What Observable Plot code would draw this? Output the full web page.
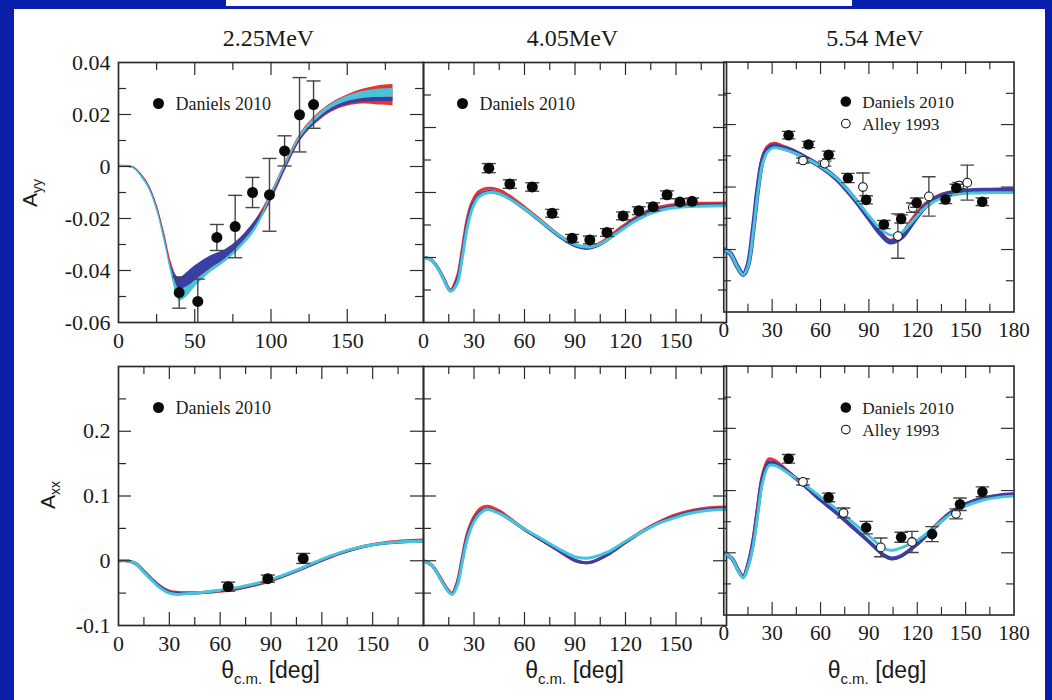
<!DOCTYPE html>
<html><head><meta charset="utf-8">
<script src="https://cdn.jsdelivr.net/npm/d3@7"></script>
<script src="https://cdn.jsdelivr.net/npm/@observablehq/plot@0.6"></script>
<style>
html,body{margin:0;padding:0;}
body{width:1052px;height:700px;background:#0b20aa;position:relative;overflow:hidden;}
#paper{position:absolute;left:14px;top:9px;width:1031px;height:691px;background:#fff;}
#topbox{position:absolute;left:226px;top:0;width:626px;height:6px;background:#fff;}
.panel{position:absolute;}
.panel svg{overflow:visible;display:block;}
#overlay{position:absolute;left:0;top:0;overflow:visible;}
</style></head><body>
<div id="paper"></div><div id="topbox"></div>
<div id="chart"></div>
<script>
// ---------- titles / labels ----------
const energies = ["2.25MeV", "4.05MeV", "5.54 MeV"];
const rowLabels = [["A", "yy"], ["A", "xx"]];
const legendDaniels = "Daniels 2010";
const legendAlley = "Alley 1993";

// ---------- tick values ----------
const xMinor225 = [25, 75, 125, 175];
const xMajor225 = [50, 100, 150];
const xLabels225 = [0, 50, 100, 150];
const xMinorDeg = [15, 45, 75, 105, 135, 165];
const xMajorDeg = [30, 60, 90, 120, 150];
const xLabelsDeg = [0, 30, 60, 90, 120, 150];
const xLabelsDegLast = [0, 30, 60, 90, 120, 150, 180];
const yMinorAyy225 = [-0.05, -0.03, -0.01, 0.01, 0.03];
const yMajorAyy225 = [-0.04, -0.02, 0, 0.02];
const yLabelsAyy = [-0.06, -0.04, -0.02, 0, 0.02, 0.04];
const yMinorAyy = [-0.01, 0.01, 0.03, 0.05];
const yMajorAyy = [0, 0.02, 0.04];
const yMinorAxx = [-0.05, 0.05, 0.15, 0.25];
const yMajorAxx = [0, 0.1, 0.2];
const yLabelsAxx = [-0.1, 0, 0.1, 0.2];

// ---------- A_yy 2.25 MeV (bands) ----------
const ayy225_x = [0, 5, 10, 15, 20, 25, 30, 35, 40, 45, 50, 60, 70, 80, 90, 100, 110, 120, 130, 140, 150, 160, 170, 180];
const ayy225_redHi = [0.0004, 0.0004, -0.0001, -0.0028, -0.0070, -0.0142, -0.0250, -0.0375, -0.0440, -0.0425, -0.0395, -0.0350, -0.0322, -0.0275, -0.0205, -0.0101, 0.0024, 0.0134, 0.0200, 0.0245, 0.0275, 0.0297, 0.0310, 0.0315];
const ayy225_redLo = [-0.0004, -0.0004, -0.0009, -0.0040, -0.0086, -0.0165, -0.0282, -0.0410, -0.0482, -0.0472, -0.0445, -0.0397, -0.0358, -0.0307, -0.0237, -0.0136, -0.0009, 0.0104, 0.0167, 0.0210, 0.0232, 0.0240, 0.0237, 0.0234];
const ayy225_blueHi = [0.0003, 0.0003, -0.0003, -0.0031, -0.0074, -0.0148, -0.0260, -0.0388, -0.0428, -0.0408, -0.0383, -0.0345, -0.0320, -0.0275, -0.0207, -0.0120, 0.0005, 0.0115, 0.0180, 0.0225, 0.0250, 0.0262, 0.0265, 0.0266];
const ayy225_blueLo = [-0.0003, -0.0003, -0.0008, -0.0038, -0.0083, -0.0160, -0.0276, -0.0405, -0.0472, -0.0462, -0.0440, -0.0395, -0.0356, -0.0300, -0.0230, -0.0132, -0.0005, 0.0107, 0.0170, 0.0213, 0.0237, 0.0247, 0.0250, 0.0250];
const ayy225_cyanHi = [0.0003, 0.0003, -0.0004, -0.0033, -0.0077, -0.0153, -0.0266, -0.0398, -0.0472, -0.0462, -0.0440, -0.0395, -0.0356, -0.0300, -0.0228, -0.0105, 0.0020, 0.0130, 0.0196, 0.0241, 0.0270, 0.0288, 0.0297, 0.0300];
const ayy225_cyanLo = [-0.0003, -0.0003, -0.0010, -0.0042, -0.0089, -0.0170, -0.0290, -0.0425, -0.0517, -0.0500, -0.0465, -0.0410, -0.0368, -0.0315, -0.0245, -0.0120, 0.0005, 0.0115, 0.0180, 0.0225, 0.0250, 0.0262, 0.0265, 0.0266];
// Daniels 2010: angle, value, error
const ayy225_danX = [39.8, 52, 64.5, 76.5, 87.9, 99, 108.9, 118.7, 127.9];
const ayy225_danY = [-0.0485, -0.0519, -0.0273, -0.0231, -0.0100, -0.0109, 0.0060, 0.0199, 0.0238];
const ayy225_danE = [0.0060, 0.0086, 0.0050, 0.0120, 0.0058, 0.0140, 0.0058, 0.0143, 0.0091];

// ---------- A_yy 4.05 MeV ----------
const ayy405_x = [0, 4, 8, 12, 16, 20, 23, 26, 29, 33, 39, 45, 50, 60, 70, 80, 90, 97, 105, 115, 125, 135, 145, 155, 165, 180];
const ayy405_red = [0, -0.0005, -0.0027, -0.0064, -0.0100, -0.0060, 0.0025, 0.0120, 0.0172, 0.0203, 0.0213, 0.0207, 0.0193, 0.0155, 0.0113, 0.0071, 0.0040, 0.0032, 0.0045, 0.0083, 0.0120, 0.0147, 0.0160, 0.0165, 0.0167, 0.0168];
const ayy405_blue = [0, -0.0005, -0.0028, -0.0066, -0.0102, -0.0070, 0.0010, 0.0105, 0.0160, 0.0192, 0.0203, 0.0197, 0.0185, 0.0149, 0.0108, 0.0067, 0.0036, 0.0028, 0.0040, 0.0077, 0.0115, 0.0142, 0.0155, 0.0160, 0.0162, 0.0163];
const ayy405_cyan = [0, -0.0005, -0.0029, -0.0068, -0.0104, -0.0080, -0.0002, 0.0092, 0.0150, 0.0187, 0.0200, 0.0196, 0.0184, 0.0150, 0.0110, 0.0070, 0.0040, 0.0032, 0.0042, 0.0075, 0.0110, 0.0136, 0.0150, 0.0156, 0.0158, 0.0159];
const ayy405_danX = [38.8, 51.3, 64.6, 76.4, 88.3, 98.8, 109, 118.6, 127.9, 136.4, 144.7, 152.3, 159.6];
const ayy405_danY = [0.0275, 0.0226, 0.0217, 0.0136, 0.0059, 0.0054, 0.0077, 0.0128, 0.0144, 0.0156, 0.0193, 0.0171, 0.0173];
const ayy405_danE = [0.0014, 0.0013, 0.0013, 0.0012, 0.0012, 0.0012, 0.0012, 0.0012, 0.0012, 0.0012, 0.0012, 0.0010, 0.0010];

// ---------- A_yy 5.54 MeV ----------
const ayy554_x = [0, 4, 8, 12, 15, 18, 21, 24, 27, 31, 36, 42, 50, 60, 70, 80, 90, 96, 103, 110, 117, 125, 135, 145, 155, 165, 180];
const ayy554_red = [0, -0.0012, -0.0049, -0.0079, -0.0046, 0.0065, 0.0203, 0.0297, 0.0330, 0.0340, 0.0333, 0.0321, 0.0299, 0.0268, 0.0228, 0.0171, 0.0104, 0.0063, 0.0030, 0.0050, 0.0100, 0.0148, 0.0177, 0.0187, 0.0189, 0.0189, 0.0189];
const ayy554_blue = [0, -0.0012, -0.0050, -0.0080, -0.0050, 0.0055, 0.0190, 0.0285, 0.0320, 0.0332, 0.0326, 0.0316, 0.0296, 0.0266, 0.0226, 0.0168, 0.0100, 0.0058, 0.0024, 0.0038, 0.0085, 0.0138, 0.0172, 0.0185, 0.0189, 0.0190, 0.0191];
const ayy554_cyan = [0, -0.0012, -0.0051, -0.0081, -0.0054, 0.0045, 0.0178, 0.0274, 0.0312, 0.0326, 0.0322, 0.0313, 0.0295, 0.0266, 0.0228, 0.0172, 0.0108, 0.0072, 0.0047, 0.0054, 0.0090, 0.0135, 0.0165, 0.0177, 0.0181, 0.0182, 0.0182];
const ayy554_danX = [40.2, 52.5, 65, 77, 88.3, 99.3, 110, 119.6, 137.5, 144.2, 160.3];
const ayy554_danY = [0.0366, 0.0336, 0.0303, 0.0229, 0.0159, 0.0080, 0.0098, 0.0150, 0.0160, 0.0197, 0.0153];
const ayy554_danE = [0.0012, 0.0010, 0.0012, 0.0015, 0.0013, 0.0013, 0.0013, 0.0015, 0.0013, 0.0012, 0.0012];
const ayy554_allX = [49.1, 62.6, 86.3, 108, 117.2, 127.2, 146, 151];
const ayy554_allY = [0.0285, 0.0275, 0.0200, 0.0043, 0.0134, 0.0170, 0.0205, 0.0214];
const ayy554_allE = [0.0008, 0.0008, 0.0045, 0.0071, 0.0015, 0.0063, 0.0010, 0.0056];

// ---------- A_xx 2.25 MeV ----------
const axx225_x = [0, 5, 10, 15, 20, 25, 30, 35, 40, 50, 60, 70, 80, 90, 100, 110, 120, 130, 140, 150, 160, 170, 180];
const axx225_red = [0, 0, -0.004, -0.016, -0.029, -0.040, -0.047, -0.049, -0.0495, -0.049, -0.047, -0.0435, -0.038, -0.031, -0.021, -0.0105, 0.0005, 0.0108, 0.019, 0.025, 0.029, 0.031, 0.032];
const axx225_blue = [0, 0, -0.004, -0.017, -0.030, -0.041, -0.048, -0.050, -0.050, -0.049, -0.046, -0.0425, -0.037, -0.030, -0.0205, -0.010, 0.001, 0.011, 0.019, 0.0245, 0.0278, 0.0295, 0.030];
const axx225_cyan = [0, 0, -0.004, -0.018, -0.031, -0.043, -0.050, -0.052, -0.051, -0.0485, -0.0455, -0.0415, -0.036, -0.0288, -0.0195, -0.009, 0.002, 0.0118, 0.0195, 0.0248, 0.028, 0.0297, 0.0302];
const axx225_danX = [64.7, 88.1, 109];
const axx225_danY = [-0.040, -0.0277, 0.0036];
const axx225_danE = [0.007, 0.0056, 0.0077];

// ---------- A_xx 4.05 MeV ----------
const axx405_x = [0, 5, 10, 14, 17, 20, 23, 26, 30, 34, 38, 45, 50, 60, 70, 80, 90, 96, 100, 110, 120, 130, 140, 150, 160, 170, 180];
const axx405_red = [0, -0.007, -0.026, -0.043, -0.050, -0.033, 0.005, 0.042, 0.068, 0.081, 0.084, 0.077, 0.068, 0.049, 0.032, 0.016, 0.000, -0.003, -0.002, 0.011, 0.029, 0.046, 0.060, 0.071, 0.078, 0.082, 0.083];
const axx405_blue = [0, -0.007, -0.027, -0.044, -0.051, -0.036, 0.001, 0.037, 0.063, 0.076, 0.080, 0.074, 0.066, 0.048, 0.032, 0.0164, 0.001, -0.003, -0.002, 0.010, 0.028, 0.045, 0.059, 0.069, 0.076, 0.080, 0.081];
const axx405_cyan = [0, -0.007, -0.028, -0.045, -0.052, -0.039, -0.003, 0.033, 0.060, 0.074, 0.079, 0.073, 0.066, 0.049, 0.034, 0.019, 0.006, 0.004, 0.005, 0.014, 0.030, 0.045, 0.058, 0.067, 0.074, 0.078, 0.079];

// ---------- A_xx 5.54 MeV ----------
const axx554_x = [0, 5, 9, 12, 15, 18, 21, 24, 28, 32, 40, 50, 60, 70, 80, 90, 100, 104, 110, 120, 130, 140, 150, 160, 170, 180];
const axx554_red = [0, -0.009, -0.027, -0.038, -0.017, 0.020, 0.076, 0.126, 0.151, 0.148, 0.131, 0.109, 0.086, 0.064, 0.041, 0.018, -0.006, -0.010, -0.005, 0.016, 0.041, 0.064, 0.079, 0.088, 0.092, 0.094];
const axx554_blue = [0, -0.009, -0.028, -0.039, -0.020, 0.014, 0.068, 0.119, 0.145, 0.143, 0.129, 0.108, 0.085, 0.064, 0.041, 0.018, -0.005, -0.009, -0.005, 0.014, 0.039, 0.063, 0.078, 0.087, 0.092, 0.094];
const axx554_cyan = [0, -0.009, -0.029, -0.040, -0.023, 0.008, 0.060, 0.112, 0.140, 0.140, 0.128, 0.110, 0.090, 0.070, 0.049, 0.027, 0.006, 0.004, 0.008, 0.020, 0.040, 0.061, 0.075, 0.084, 0.089, 0.091];
const axx554_danX = [40.2, 65, 88.3, 110, 129.2, 146.5, 160.4];
const axx554_danY = [0.151, 0.089, 0.0405, 0.025, 0.030, 0.078, 0.098];
const axx554_danE = [0.007, 0.007, 0.010, 0.008, 0.012, 0.010, 0.008];
const axx554_allX = [49.1, 74.3, 97.4, 116.7, 144];
const axx554_allY = [0.114, 0.064, 0.0087, 0.0174, 0.0626];
const axx554_allE = [0.005, 0.008, 0.015, 0.017, 0.008];

// ---------- styling ----------
const C_RED = "#e6342e", C_BLUE = "#3a3fa6", C_CYAN = "#47c4da";
const FRAME = "#2b2b2b", ERR = "#444";
const SERIF = "Liberation Serif, Times New Roman, serif";
const SANS = "Liberation Sans, Arial, sans-serif";

const rows = (xs, ys) => xs.map((x, i) => ({x, y: ys[i]}));
const bandRows = (xs, lo, hi) => xs.map((x, i) => ({x, lo: lo[i], hi: hi[i]}));
const pts = (xs, ys, es) => xs.map((x, i) => ({x, y: ys[i], e: es[i]}));
const capSymbol = {draw(ctx, size) { const r = Math.sqrt(size / Math.PI); ctx.moveTo(-r, 0); ctx.lineTo(r, 0); }};

function lines(xs, red, blue, cyan, wBlue = 3) {
  return [
    Plot.line(rows(xs, red), {x: "x", y: "y", stroke: C_RED, strokeWidth: 3, curve: "catmull-rom", clip: true}),
    Plot.line(rows(xs, blue), {x: "x", y: "y", stroke: C_BLUE, strokeWidth: wBlue, curve: "catmull-rom", clip: true}),
    Plot.line(rows(xs, cyan), {x: "x", y: "y", stroke: C_CYAN, strokeWidth: 3, curve: "catmull-rom", clip: true})
  ];
}
function errMarks(data, open) {
  return [
    Plot.ruleX(data, {x: "x", y1: d => d.y - d.e, y2: d => d.y + d.e, stroke: ERR, strokeWidth: 1.4, clip: true}),
    Plot.dot(data, {x: "x", y: d => d.y + d.e, symbol: capSymbol, r: 7, stroke: ERR, strokeWidth: 1.4, fill: "none", clip: true}),
    Plot.dot(data, {x: "x", y: d => d.y - d.e, symbol: capSymbol, r: 7, stroke: ERR, strokeWidth: 1.4, fill: "none", clip: true}),
    open
      ? Plot.dot(data, {x: "x", y: "y", r: 4.5, fill: "white", stroke: "#111", strokeWidth: 1.1, clip: true})
      : Plot.dot(data, {x: "x", y: "y", r: 5.5, fill: "#0a0a0a", clip: true})
  ];
}
function legend(dx, dy, withAlley) {
  const m = [
    Plot.dot([legendDaniels], {frameAnchor: "top-left", dx, dy, r: 5.5, fill: "#0a0a0a"}),
    Plot.text([legendDaniels], {frameAnchor: "top-left", dx: dx + 17, dy: dy + 1, text: d => d, textAnchor: "start", lineAnchor: "middle", fontSize: 18, fontFamily: SERIF, fill: "#222"})
  ];
  if (withAlley) {
    m.push(Plot.dot([legendAlley], {frameAnchor: "top-left", dx, dy: dy + 23, r: 4.5, fill: "white", stroke: "#111", strokeWidth: 1.1}));
    m.push(Plot.text([legendAlley], {frameAnchor: "top-left", dx: dx + 17, dy: dy + 24, text: d => d, textAnchor: "start", lineAnchor: "middle", fontSize: 18, fontFamily: SERIF, fill: "#222"}));
  }
  return m;
}

const LMIN = 8, LMAJ = 13;
function panel(cfg) {
  const {left, top, w, h, xDomain, yDomain, xMinor, xMajor, yMinor, yMajor, xLabels, yLabels, marks} = cfg;
  const mL = 70, mR = 40, mT = 10, mB = 45;
  const tickStyle = {stroke: FRAME, strokeWidth: 1.2};
  const svg = Plot.plot({
    width: w + mL + mR, height: h + mT + mB,
    marginLeft: mL, marginRight: mR, marginTop: mT, marginBottom: mB,
    x: {domain: xDomain, axis: null},
    y: {domain: yDomain, axis: null},
    style: {background: "transparent", overflow: "visible", fontFamily: SERIF, fontSize: "22px", color: "#1a1a1a"},
    marks: [
      ...marks,
      Plot.tickX(xMinor, {x: d => d, insetTop: h - LMIN, ...tickStyle}),
      Plot.tickX(xMinor, {x: d => d, insetBottom: h - LMIN, ...tickStyle}),
      Plot.tickX(xMajor, {x: d => d, insetTop: h - LMAJ, ...tickStyle}),
      Plot.tickX(xMajor, {x: d => d, insetBottom: h - LMAJ, ...tickStyle}),
      Plot.tickY(yMinor, {y: d => d, insetRight: w - LMIN, ...tickStyle}),
      Plot.tickY(yMinor, {y: d => d, insetLeft: w - LMIN, ...tickStyle}),
      Plot.tickY(yMajor, {y: d => d, insetRight: w - LMAJ, ...tickStyle}),
      Plot.tickY(yMajor, {y: d => d, insetLeft: w - LMAJ, ...tickStyle}),
      Plot.axisX({ticks: xLabels, tickSize: 0, tickPadding: 10, tickFormat: d => String(d), label: null, fontSize: 22, fontFamily: SERIF}),
      yLabels ? Plot.axisY({ticks: yLabels, tickSize: 0, tickPadding: 8, tickFormat: d => String(d), label: null, fontSize: 22, fontFamily: SERIF}) : null,
      Plot.frame({stroke: FRAME, strokeWidth: 1.7})
    ]
  });
  const div = document.createElement("div");
  div.className = "panel";
  div.style.left = (left - mL) + "px";
  div.style.top = (top - mT) + "px";
  div.appendChild(svg);
  document.getElementById("chart").appendChild(div);
}

const COLX = [118, 423, 726], COLW = [305, 303, 302];
const ROWY = [62, 366], ROWH = [260, 259];

// Row 1: A_yy
panel({left: COLX[0], top: ROWY[0], w: COLW[0], h: ROWH[0], xDomain: [0, 200], yDomain: [-0.06, 0.04],
  xMinor: xMinor225, xMajor: xMajor225, yMinor: yMinorAyy225, yMajor: yMajorAyy225, xLabels: xLabels225, yLabels: yLabelsAyy,
  marks: [
    Plot.areaY(bandRows(ayy225_x, ayy225_redLo, ayy225_redHi), {x: "x", y1: "lo", y2: "hi", fill: C_RED, curve: "catmull-rom", clip: true}),
    Plot.areaY(bandRows(ayy225_x, ayy225_blueLo, ayy225_blueHi), {x: "x", y1: "lo", y2: "hi", fill: C_BLUE, curve: "catmull-rom", clip: true}),
    Plot.areaY(bandRows(ayy225_x, ayy225_cyanLo, ayy225_cyanHi), {x: "x", y1: "lo", y2: "hi", fill: C_CYAN, curve: "catmull-rom", clip: true}),
    ...errMarks(pts(ayy225_danX, ayy225_danY, ayy225_danE), false),
    ...legend(40, 41, false)
  ]});
panel({left: COLX[1], top: ROWY[0], w: COLW[1], h: ROWH[0], xDomain: [0, 180], yDomain: [-0.02, 0.06],
  xMinor: xMinorDeg, xMajor: xMajorDeg, yMinor: yMinorAyy, yMajor: yMajorAyy, xLabels: xLabelsDeg, yLabels: null,
  marks: [
    ...lines(ayy405_x, ayy405_red, ayy405_blue, ayy405_cyan),
    ...errMarks(pts(ayy405_danX, ayy405_danY, ayy405_danE), false),
    ...legend(39, 41, false)
  ]});
panel({left: COLX[2], top: ROWY[0], w: COLW[2], h: ROWH[0], xDomain: [0, 180], yDomain: [-0.02, 0.06],
  xMinor: xMinorDeg, xMajor: xMajorDeg, yMinor: yMinorAyy, yMajor: yMajorAyy, xLabels: xLabelsDegLast, yLabels: null,
  marks: [
    ...lines(ayy554_x, ayy554_red, ayy554_blue, ayy554_cyan, 5),
    ...errMarks(pts(ayy554_allX, ayy554_allY, ayy554_allE), true),
    ...errMarks(pts(ayy554_danX, ayy554_danY, ayy554_danE), false),
    ...legend(127, 41, true)
  ]});
// Row 2: A_xx
panel({left: COLX[0], top: ROWY[1], w: COLW[0], h: ROWH[1], xDomain: [0, 180], yDomain: [-0.1, 0.3],
  xMinor: xMinorDeg, xMajor: xMajorDeg, yMinor: yMinorAxx, yMajor: yMajorAxx, xLabels: xLabelsDeg, yLabels: yLabelsAxx,
  marks: [
    ...lines(axx225_x, axx225_red, axx225_blue, axx225_cyan),
    ...errMarks(pts(axx225_danX, axx225_danY, axx225_danE), false),
    ...legend(40, 41, false)
  ]});
panel({left: COLX[1], top: ROWY[1], w: COLW[1], h: ROWH[1], xDomain: [0, 180], yDomain: [-0.1, 0.3],
  xMinor: xMinorDeg, xMajor: xMajorDeg, yMinor: yMinorAxx, yMajor: yMajorAxx, xLabels: xLabelsDeg, yLabels: null,
  marks: [
    ...lines(axx405_x, axx405_red, axx405_blue, axx405_cyan)
  ]});
panel({left: COLX[2], top: ROWY[1], w: COLW[2], h: ROWH[1], xDomain: [0, 180], yDomain: [-0.1, 0.3],
  xMinor: xMinorDeg, xMajor: xMajorDeg, yMinor: yMinorAxx, yMajor: yMajorAxx, xLabels: xLabelsDegLast, yLabels: null,
  marks: [
    ...lines(axx554_x, axx554_red, axx554_blue, axx554_cyan, 4),
    ...errMarks(pts(axx554_allX, axx554_allY, axx554_allE), true),
    ...errMarks(pts(axx554_danX, axx554_danY, axx554_danE), false),
    ...legend(127, 43, true)
  ]});

// ---------- overlay texts: titles, axis titles ----------
const NS = "http://www.w3.org/2000/svg";
const ov = document.createElementNS(NS, "svg");
ov.setAttribute("id", "overlay");
ov.setAttribute("width", 1052); ov.setAttribute("height", 700);
function addText(attrs, parts) {
  const t = document.createElementNS(NS, "text");
  for (const k in attrs) t.setAttribute(k, attrs[k]);
  for (const p of parts) {
    const s = document.createElementNS(NS, "tspan");
    for (const k in (p.a || {})) s.setAttribute(k, p.a[k]);
    s.textContent = p.t;
    t.appendChild(s);
  }
  ov.appendChild(t);
}
energies.forEach((e, i) => {
  addText({x: COLX[i] + COLW[i] / 2 - 2, y: 46, "text-anchor": "middle", "font-family": SERIF, "font-size": 24, fill: "#1a1a1a"}, [{t: e}]);
  addText({x: COLX[i] + COLW[i] / 2, y: 678, "text-anchor": "middle", "font-family": SANS, "font-size": 23, fill: "#1a1a1a"},
    [{t: "θ"}, {t: "c.m.", a: {"font-size": 15, dy: 6}}, {t: " [deg]", a: {dy: -6}}]);
});
[[37, 193], [55, 495]].forEach(([x, y], i) => {
  addText({transform: `translate(${x},${y}) rotate(-90)`, "text-anchor": "middle", "font-family": SANS, "font-size": 21, fill: "#1a1a1a"},
    [{t: rowLabels[i][0]}, {t: rowLabels[i][1], a: {"font-size": 14, dy: 5}}]);
});
document.body.appendChild(ov);
</script>
</body></html>
